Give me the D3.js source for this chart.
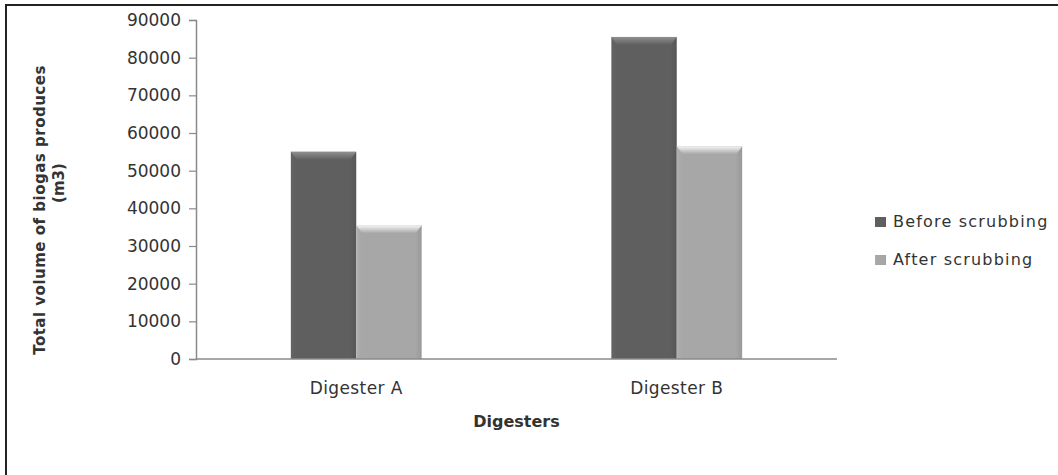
<!DOCTYPE html>
<html>
<head>
<meta charset="utf-8">
<script src="https://cdn.jsdelivr.net/npm/d3@7"></script>
<style>
  html, body { margin: 0; padding: 0; background: #fff; }
  svg { display: block; }
  text { font-family: "DejaVu Sans", sans-serif; fill: #333; }
</style>
</head>
<body>
<svg id="chart" width="1058" height="475"></svg>
<script>
// Biogas volume per digester, before and after scrubbing (m3)
const categories = ["Digester A", "Digester B"];
const seriesNames = ["Before scrubbing", "After scrubbing"];
const beforeScrubbing = [55000, 85500];
const afterScrubbing = [35500, 56500];
const yTicks = [0, 10000, 20000, 30000, 40000, 50000, 60000, 70000, 80000, 90000];

const seriesValues = [beforeScrubbing, afterScrubbing];
const seriesColors = ["#5f5f5f", "#a7a7a7"];
const bevelColors = ["#909090", "#f6f6f6"];

const svg = d3.select("#chart");
const margin = { left: 196, right: 221, top: 20, bottom: 116 };
const W = 1058, H = 475;

// outer frame (only top and left edges fall inside the view)
svg.append("rect")
  .attr("x", 6).attr("y", 5)
  .attr("width", 1200).attr("height", 600)
  .attr("fill", "none").attr("stroke", "#222").attr("stroke-width", 2);

const x = d3.scaleBand()
  .domain(categories)
  .range([margin.left, W - margin.right])
  .paddingInner(0).paddingOuter(0);

const xs = d3.scaleBand()
  .domain(seriesNames)
  .range([0, x.bandwidth()])
  .paddingInner(0)
  .paddingOuter(1.45);

const y = d3.scaleLinear()
  .domain([0, 90000])
  .range([H - margin.bottom, margin.top]);

// gradients for a soft bevelled look
const defs = svg.append("defs");
seriesColors.forEach((c, i) => {
  const g = defs.append("linearGradient").attr("id", "bar" + i)
    .attr("x1", "0").attr("x2", "1").attr("y1", "0").attr("y2", "0");
  const base = d3.color(c);
  g.append("stop").attr("offset", "0").attr("stop-color", base.brighter(0.15));
  g.append("stop").attr("offset", "0.08").attr("stop-color", base);
  g.append("stop").attr("offset", "0.9").attr("stop-color", base);
  g.append("stop").attr("offset", "1").attr("stop-color", base.darker(0.25));
  const t = defs.append("linearGradient").attr("id", "bevel" + i)
    .attr("x1", "0").attr("x2", "0").attr("y1", "0").attr("y2", "1");
  t.append("stop").attr("offset", "0").attr("stop-color", bevelColors[i]);
  t.append("stop").attr("offset", "1").attr("stop-color", c);
});

// y axis
const yAxis = d3.axisLeft(y).tickValues(yTicks).tickSize(7).tickPadding(8)
  .tickFormat(d3.format("d"));
const gy = svg.append("g").attr("transform", `translate(${margin.left},0)`).call(yAxis);
gy.select(".domain").attr("stroke", "#8a8a8a").attr("stroke-width", 1.5);
gy.selectAll(".tick line").attr("stroke", "#8a8a8a").attr("stroke-width", 1.2);
gy.selectAll(".tick text").attr("font-size", 17).attr("fill", "#2e2e2e")
  .attr("font-family", "DejaVu Sans, sans-serif");

// bars
const groups = svg.append("g").selectAll("g")
  .data(categories).join("g")
  .attr("transform", d => `translate(${x(d)},0)`);

seriesNames.forEach((s, si) => {
  groups.append("rect")
    .attr("x", xs(s))
    .attr("y", (d, ci) => y(seriesValues[si][ci]))
    .attr("width", xs.bandwidth())
    .attr("height", (d, ci) => y(0) - y(seriesValues[si][ci]))
    .attr("fill", `url(#bar${si})`);
  // top bevel
  groups.append("path")
    .attr("d", (d, ci) => {
      const x0 = xs(s), x1 = xs(s) + xs.bandwidth();
      const yt = y(seriesValues[si][ci]);
      return `M${x0},${yt}L${x1},${yt}L${x1 - 6},${yt + 8}L${x0 + 6},${yt + 8}Z`;
    })
    .attr("fill", `url(#bevel${si})`);
});

// x axis baseline
svg.append("line")
  .attr("x1", margin.left).attr("x2", W - margin.right)
  .attr("y1", y(0)).attr("y2", y(0))
  .attr("stroke", "#8a8a8a").attr("stroke-width", 1.5);

// category labels
svg.append("g").selectAll("text")
  .data(categories).join("text")
  .attr("x", d => x(d) + x.bandwidth() / 2)
  .attr("y", 394)
  .attr("text-anchor", "middle")
  .attr("font-size", 17).attr("letter-spacing", 0.4)
  .text(d => d);

// axis titles
svg.append("text")
  .attr("x", (margin.left + W - margin.right) / 2)
  .attr("y", 427)
  .attr("text-anchor", "middle")
  .attr("font-size", 16).attr("font-weight", "bold").attr("fill", "#222")
  .text("Digesters");

const yTitle = svg.append("g").attr("transform", "rotate(-90)");
yTitle.append("text")
  .attr("x", -210).attr("y", 45)
  .attr("text-anchor", "middle")
  .attr("font-size", 15).attr("font-weight", "bold").attr("fill", "#222")
  .attr("letter-spacing", 0.5)
  .text("Total volume of biogas  produces");
yTitle.append("text")
  .attr("x", -183).attr("y", 64)
  .attr("text-anchor", "middle")
  .attr("font-size", 15).attr("font-weight", "bold").attr("fill", "#222")
  .text("(m3)");

// legend
const legend = svg.append("g").selectAll("g")
  .data(seriesNames).join("g")
  .attr("transform", (d, i) => `translate(875,${217 + i * 38})`);
legend.append("rect")
  .attr("width", 11).attr("height", 10)
  .attr("fill", (d, i) => `url(#bar${i})`);
legend.append("text")
  .attr("x", 18).attr("y", 10)
  .attr("font-size", 16).attr("letter-spacing", 1.2)
  .text(d => d);
</script>
</body>
</html>
